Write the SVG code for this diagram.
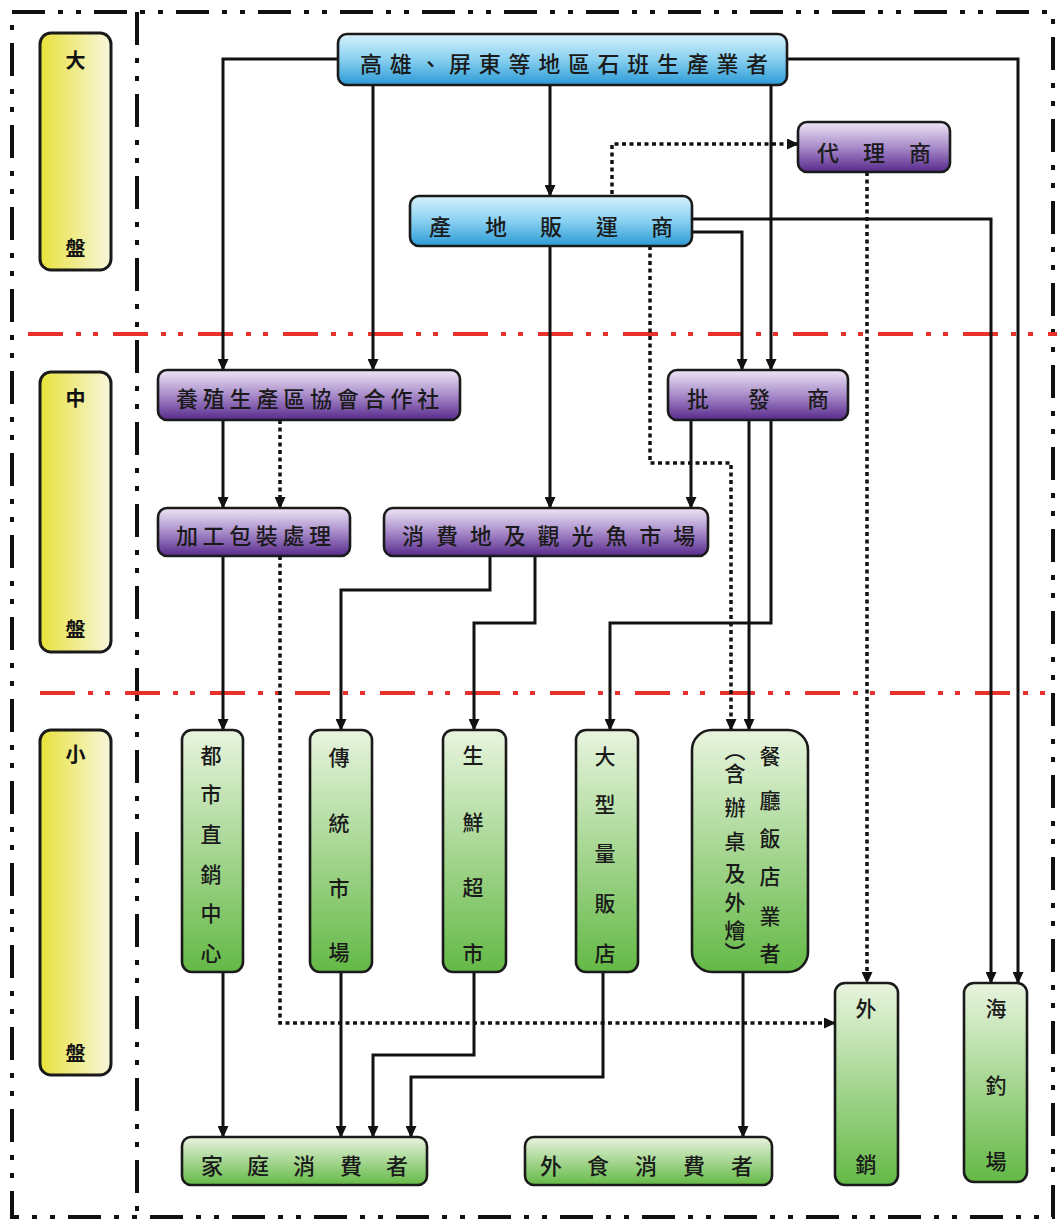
<svg xmlns="http://www.w3.org/2000/svg" width="1057" height="1223" viewBox="0 0 1057 1223">
  <defs>
    <linearGradient id="gBlue" x1="0" y1="0" x2="0" y2="1">
      <stop offset="0" stop-color="#d8f1fb"/>
      <stop offset="0.5" stop-color="#88d0f0"/>
      <stop offset="1" stop-color="#2b9ad5"/>
    </linearGradient>
    <linearGradient id="gPurple" x1="0" y1="0" x2="0" y2="1">
      <stop offset="0" stop-color="#eee6f5"/>
      <stop offset="0.5" stop-color="#a88cca"/>
      <stop offset="1" stop-color="#57298c"/>
    </linearGradient>
    <linearGradient id="gGreen" x1="0" y1="0" x2="0" y2="1">
      <stop offset="0" stop-color="#e8f4de"/>
      <stop offset="1" stop-color="#64b946"/>
    </linearGradient>
    <linearGradient id="gYellow" x1="0" y1="0" x2="1" y2="0">
      <stop offset="0" stop-color="#e8e23a"/>
      <stop offset="1" stop-color="#f8f6dc"/>
    </linearGradient>
    <marker id="arrow" viewBox="0 0 12 11" refX="11" refY="5.5" markerWidth="12" markerHeight="11" markerUnits="userSpaceOnUse" orient="auto">
      <path d="M0,0 L12,5.5 L0,11 z" fill="#111"/>
    </marker>
    <style>
      .frame { fill: none; stroke: #111; stroke-width: 4; stroke-dasharray: 33 13 5 13 5 13; }
      .level { fill: none; stroke: #e8312b; stroke-width: 4; stroke-dasharray: 35 13 5 12 5 15; }
      .box { stroke: #1a1a1a; stroke-width: 2.6; }
      .blue { fill: url(#gBlue); }
      .purple { fill: url(#gPurple); }
      .green { fill: url(#gGreen); }
      .yellow { fill: url(#gYellow); stroke-width: 3; }
      .t { font-family: "Noto Sans CJK TC", "Noto Sans CJK SC", sans-serif; font-size: 22px; font-weight: 500; fill: #1a1a1a; text-anchor: middle; dominant-baseline: central; }
      .tv { font-family: "Noto Sans CJK TC", "Noto Sans CJK SC", sans-serif; font-size: 21px; font-weight: 500; fill: #1a1a1a; text-anchor: middle; dominant-baseline: central; }
      .tl { font-family: "Noto Sans CJK TC", "Noto Sans CJK SC", sans-serif; font-size: 20px; font-weight: 700; fill: #111; text-anchor: middle; dominant-baseline: central; }
      .vert { writing-mode: vertical-rl; }
      .line { fill: none; stroke: #111; stroke-width: 3; marker-end: url(#arrow); }
      .dot { fill: none; stroke: #111; stroke-width: 3.5; stroke-dasharray: 4 3.5; marker-end: url(#arrow); }
    </style>
  </defs>

  <rect width="1057" height="1223" fill="#ffffff"/>

  <!-- outer frame and level column divider -->
  <g id="frame">
    <rect class="frame" x="12" y="12" width="1041" height="1205"/>
    <line class="frame" x1="137" y1="12" x2="137" y2="1217"/>
    <line class="level" x1="28" y1="334" x2="1057" y2="334"/>
    <line class="level" x1="40" y1="693" x2="1057" y2="693"/>
  </g>

  <!-- level labels -->
  <g id="level-big">
    <rect class="box yellow" x="40" y="33" width="71" height="237" rx="11"/>
    <text class="tl" x="75.5" y="59">大</text>
    <text class="tl" x="75.5" y="247">盤</text>
  </g>
  <g id="level-mid">
    <rect class="box yellow" x="40" y="372" width="71" height="280" rx="11"/>
    <text class="tl" x="75.5" y="397">中</text>
    <text class="tl" x="75.5" y="628">盤</text>
  </g>
  <g id="level-small">
    <rect class="box yellow" x="40" y="730" width="71" height="345" rx="11"/>
    <text class="tl" x="75.5" y="753">小</text>
    <text class="tl" x="75.5" y="1052">盤</text>
  </g>

  <!-- connectors -->
  <g id="connectors">
    <path class="line" d="M338,59 H223 V370"/>
    <path class="line" d="M373,85 V370"/>
    <path class="line" d="M550,85 V196"/>
    <path class="line" d="M771,85 V370"/>
    <path class="line" d="M787,59 H1018 V983"/>
    <path class="line" d="M692,219 H991 V983"/>
    <path class="line" d="M692,232 H742 V370"/>
    <path class="line" d="M550,246 V508"/>
    <path class="line" d="M691,420 V508"/>
    <path class="line" d="M749,420 V730"/>
    <path class="line" d="M771,420 V623 H610 V730"/>
    <path class="line" d="M223,420 V508"/>
    <path class="line" d="M223,556 V730"/>
    <path class="line" d="M490,556 V590 H341 V730"/>
    <path class="line" d="M535,556 V623 H474 V730"/>
    <path class="line" d="M223,972 V1137"/>
    <path class="line" d="M341,972 V1137"/>
    <path class="line" d="M474,972 V1055 H373 V1137"/>
    <path class="line" d="M603,972 V1077 H411 V1137"/>
    <path class="line" d="M743,972 V1137"/>
    <path class="dot" d="M612,194 V144 H798"/>
    <path class="dot" d="M867,172 V983"/>
    <path class="dot" d="M650,246 V463 H731 V730"/>
    <path class="dot" d="M280,420 V508"/>
    <path class="dot" d="M280,556 V1023 H835"/>
  </g>

  <!-- upstream: producers, agents, shippers -->
  <g id="producer">
    <rect class="box blue" x="338" y="34" width="449" height="51" rx="9"/>
    <text class="t" x="371 400.7 430.4 460.1 489.8 519.5 549.2 578.9 608.6 638.3 668 697.7 727.4 757.1" y="62">高雄、屏東等地區石班生產業者</text>
  </g>
  <g id="agent">
    <rect class="box purple" x="798" y="122" width="152" height="50" rx="9"/>
    <text class="t" x="828 874 920" y="151">代理商</text>
  </g>
  <g id="shipper">
    <rect class="box blue" x="410" y="196" width="282" height="50" rx="9"/>
    <text class="t" x="440 496 551 607 662" y="225">產地販運商</text>
  </g>

  <!-- midstream -->
  <g id="cooperative">
    <rect class="box purple" x="158" y="370" width="302" height="50" rx="9"/>
    <text class="t" x="187 213.8 240.6 267.4 294.2 321 347.8 374.6 401.4 428.2" y="397">養殖生產區協會合作社</text>
  </g>
  <g id="wholesaler">
    <rect class="box purple" x="668" y="370" width="180" height="50" rx="9"/>
    <text class="t" x="698 759 818" y="397">批發商</text>
  </g>
  <g id="processing">
    <rect class="box purple" x="158" y="508" width="192" height="48" rx="9"/>
    <text class="t" x="187 213.6 240.2 266.8 293.4 320" y="534">加工包裝處理</text>
  </g>
  <g id="fish-market">
    <rect class="box purple" x="384" y="508" width="324" height="48" rx="9"/>
    <text class="t" x="413 446.9 480.8 514.7 548.6 582.5 616.4 650.3 684.2" y="534">消費地及觀光魚市場</text>
  </g>

  <!-- retail channels -->
  <g id="direct-sales">
    <rect class="box green" x="182" y="730" width="61" height="242" rx="10"/>
    <text class="tv" x="211 211 211 211 211 211" y="754 793 833 873 912 952">都市直銷中心</text>
  </g>
  <g id="traditional-market">
    <rect class="box green" x="310" y="730" width="62" height="242" rx="10"/>
    <text class="tv" x="339 339 339 339" y="756 822 887 951">傳統市場</text>
  </g>
  <g id="supermarket">
    <rect class="box green" x="443" y="730" width="63" height="242" rx="10"/>
    <text class="tv" x="473 473 473 473" y="754 821 886 952">生鮮超市</text>
  </g>
  <g id="hypermarket">
    <rect class="box green" x="576" y="730" width="62" height="242" rx="10"/>
    <text class="tv" x="605 605 605 605 605" y="755 803 852 902 952">大型量販店</text>
  </g>
  <g id="restaurants">
    <rect class="box green" x="692" y="730" width="116" height="242" rx="20"/>
    <text class="tv" x="770 770 770 770 770 770" y="755 799 837 875 915 952">餐廳飯店業者</text>
    <text class="tv vert" x="735" y="750 773 807 841 873 902 930 952">（含辦桌及外燴）</text>
  </g>
  <g id="export">
    <rect class="box green" x="835" y="983" width="63" height="202" rx="10"/>
    <text class="tv" x="866 866" y="1007 1163">外銷</text>
  </g>
  <g id="sea-fishing">
    <rect class="box green" x="964" y="983" width="63" height="199" rx="10"/>
    <text class="tv" x="996 996 996" y="1007 1084 1160">海釣場</text>
  </g>

  <!-- consumers -->
  <g id="household">
    <rect class="box green" x="182" y="1137" width="245" height="48" rx="9"/>
    <text class="t" x="212 258 304 351 397" y="1164">家庭消費者</text>
  </g>
  <g id="dining-out">
    <rect class="box green" x="525" y="1137" width="247" height="48" rx="9"/>
    <text class="t" x="551 598 646 694 742" y="1164">外食消費者</text>
  </g>
</svg>
